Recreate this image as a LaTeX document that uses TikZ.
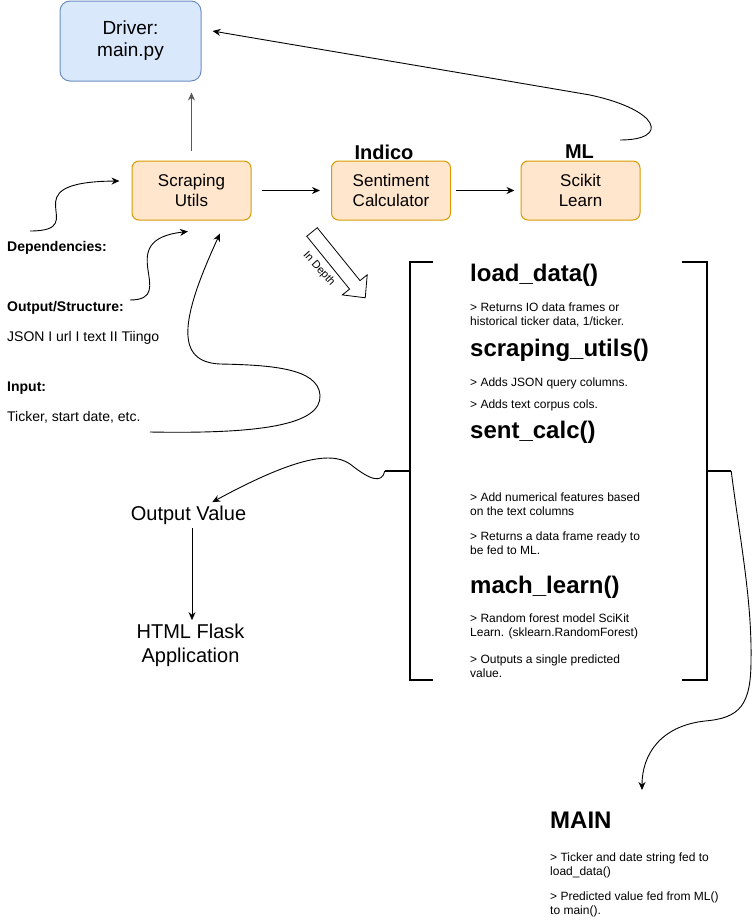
\documentclass[tikz,border=0pt]{standalone}
\usepackage{fontspec}
\setmainfont{Liberation Sans}
\usepackage{tikz}
\usetikzlibrary{arrows,arrows.meta}
\usetikzlibrary{calc}
\definecolor{driverfill}{RGB}{218,232,252}
\definecolor{driverline}{RGB}{108,142,191}
\definecolor{utilfill}{RGB}{255,230,204}
\definecolor{utilline}{RGB}{215,155,0}

\begin{document}
\begin{tikzpicture}[x=1pt, y=-1pt,
	kasten/.style={draw=utilline, fill=utilfill, line width=1pt, rounded corners=7pt, minimum width=119pt, minimum height=59pt, align=center, font=\fontsize{17}{20}\selectfont},
	tag/.style={font=\bfseries\fontsize{20}{24}\selectfont},
	lbl/.style={anchor=west, inner sep=0pt, font=\fontsize{14}{17}\selectfont},
	head/.style={anchor=west, inner sep=0pt, font=\bfseries\fontsize{24}{29}\selectfont},
	txt/.style={anchor=west, inner sep=0pt, align=left, font=\fontsize{12}{14}\selectfont},
	big/.style={align=center, font=\fontsize{20}{24}\selectfont},
	pfeil/.style={-{Stealth[length=8pt, width=7pt]}, line width=0.9pt},
	linie/.style={line width=0.9pt},
	klammer/.style={line width=2pt}]

	\useasboundingbox (0,0) rectangle (753,921);

	% Reihe 1
	\node[kasten, fill=driverfill, draw=driverline, minimum width=141pt, minimum height=80pt, rounded corners=10pt, font=\fontsize{19}{22}\selectfont] (D) at (130.5,41) {Driver:\\main.py};

	\node[kasten] (SU) at (191.5,190.5) {Scraping\\Utils};
	\node[kasten] (SC) at (391,190.5) {Sentiment\\Calculator};
	\node[kasten] (SK) at (580.5,190.5) {Scikit\\Learn};

	\node[tag] (T1) at (384,152) {Indico};
	\node[tag] (T2) at (579.5,152) {ML};

	\draw[pfeil, black!65, shorten <=10pt, shorten >=11pt] (SU.north) -- (SU.north |- D.south);
	\draw[pfeil, shorten <=10pt, shorten >=11pt] (SU) -- (SC);
	\draw[pfeil, shorten <=5pt, shorten >=6pt] (SC) -- (SK);

	\coordinate (m0) at (620,140);
	\draw[pfeil] (m0) .. controls (670,140) and (660,110) .. (590,95) .. controls (450,71) and (300,46) .. ([shift={(11,-10)}]D.east);

	% Eingaben links
	\node[lbl, font=\bfseries\fontsize{14}{17}\selectfont] (L1) at (7,248) {Dependencies:};
	\node[lbl, font=\bfseries\fontsize{14}{17}\selectfont] (L2) at (7,308) {Output/Structure:};
	\node[lbl] (L3) at (7,338) {JSON I url I text II Tiingo};
	\node[lbl, font=\bfseries\fontsize{14}{17}\selectfont] (L4) at (7,388) {Input:};
	\node[lbl] (L5) at (7,417) {Ticker, start date, etc.};

	\coordinate (d0) at (30,231);
	\coordinate (o0) at (130,300);
	\coordinate (i0) at (150,432);
	\draw[pfeil] (d0) .. controls (95,231) and (5,182) .. ([shift={(-12,-9.5)}]SU.west);
	\draw[pfeil] (o0) .. controls (180,300) and (110,240) .. ([shift={(-3.5,11)}]SU.south);
	\draw[pfeil] (i0) .. controls (260,434) and (322,425) .. (320,395) .. controls (318,368) and (270,365) .. (220,364) .. controls (175,362) and (180,320) .. ([shift={(28.5,13)}]SU.south);

	% In Depth
	\draw[linie, line width=0.8pt, shift={(312,232)}, rotate=-51] (0,-6.75) -- (68,-6.75) -- (68,-16) -- (84.6,0) -- (68,16) -- (68,6.75) -- (0,6.75) -- cycle;
	\node[rotate=-48, font=\fontsize{11}{13}\selectfont] (ID) at (319,269) {In Depth};

	% Klammer
	\node[minimum width=297pt, minimum height=418pt, inner sep=0pt] (BR) at (558.5,471) {};
	\draw[klammer] ([xshift=23pt]BR.north west) -- (BR.north west) -- (BR.south west) -- ([xshift=23pt]BR.south west);
	\draw[klammer] ([xshift=-25pt]BR.north east) -- (BR.north east) -- (BR.south east) -- ([xshift=-25pt]BR.south east);

	\node[head] (H1) at (470,275) {load\_data()};
	\node[txt] (B1) at (470,315) {> Returns IO data frames or\\historical ticker data, 1/ticker.};
	\node[head] (H2) at (470,350) {scraping\_utils()};
	\node[txt] (B2) at (470,383) {> Adds JSON query columns.};
	\node[txt] (B3) at (470,405) {> Adds text corpus cols.};
	\node[head] (H3) at (470,432) {sent\_calc()};
	\node[txt] (B4) at (470,504.5) {> Add numerical features based\\on the text columns};
	\node[txt] (B5) at (470,543.5) {> Returns a data frame ready to\\be fed to ML.};
	\node[head] (H4) at (470,587) {mach\_learn()};
	\node[txt] (B6) at (470,626.5) {> Random forest model SciKit\\Learn. (sklearn.RandomForest)};
	\node[txt] (B7) at (470,666) {> Outputs a single predicted\\value.};

	% Ausgabe
	\node[big] (OV) at (188.5,515) {Output Value};
	\node[big] (HF) at (190.5,645) {HTML Flask\\Application};
	\draw[pfeil] ([xshift=3.5pt]OV.south) -- ([xshift=3.5pt]OV.south |- HF.north);

	\draw[klammer, line width=1.6pt] (BR.west) -- ++(-25,0) coordinate (l0);
	\draw[pfeil] (l0) .. controls (382,484) and (370,480) .. (350,464) .. controls (330,450) and (290,460) .. ([shift={(62,-28)}]OV);

	% MAIN
	\node[head] (MN) at (550,820) {MAIN};
	\node[txt] (M1) at (550,865) {> Ticker and date string fed to\\load\_data()};
	\node[txt] (M2) at (550,904.5) {> Predicted value fed from ML()\\to main().};

	\draw[klammer, line width=1.6pt] (BR.east) -- ++(24,0) coordinate (r0);
	\draw[pfeil] (r0) .. controls (740,540) and (752,600) .. (751,660) .. controls (751,705) and (740,718) .. (705,721) .. controls (660,726) and (642,755) .. ([shift={(92,-30)}]MN.west);

\end{tikzpicture}
\end{document}
